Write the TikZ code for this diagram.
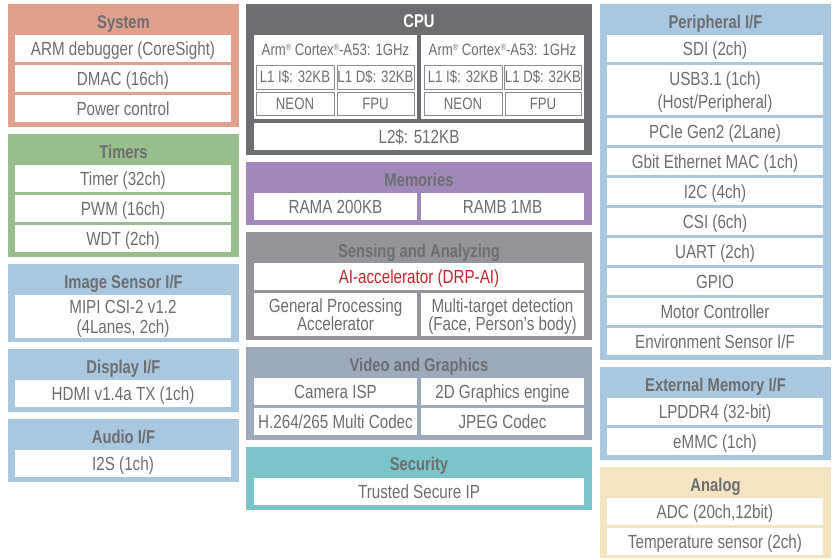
\documentclass[tikz,border=0pt]{standalone}
\usepackage{fontspec}
\setmainfont{Liberation Sans}[FakeStretch=0.8]

\definecolor{sysC}{HTML}{DFA08D}
\definecolor{timC}{HTML}{98BF8B}
\definecolor{ifC}{HTML}{A9C7DE}
\definecolor{cpuC}{HTML}{6D6E71}
\definecolor{memC}{HTML}{A088B8}
\definecolor{senC}{HTML}{949599}
\definecolor{vidC}{HTML}{9DAABB}
\definecolor{secC}{HTML}{7BC5CA}
\definecolor{anaC}{HTML}{F4E4C1}
\definecolor{txt}{HTML}{6D6E71}
\definecolor{aiRed}{HTML}{C1272D}
\definecolor{subline}{HTML}{8C8C8C}

\newcommand{\itemfont}{\fontsize{19}{21}\selectfont}
\newcommand{\ttlfont}{\bfseries\fontsize{18.5}{20}\selectfont}
\newcommand{\subfont}{\fontsize{16.5}{18}\selectfont}
\newcommand{\regmark}{{\fontsize{9}{9}\selectfont\raisebox{5pt}{®}}}

\begin{document}
\begin{tikzpicture}[x=1pt,y=-1pt,
  % a rectangle given by its corners x1,y1,x2,y2
  span/.style n args={4}{anchor=center, at={({(#1+#3)/2},{(#2+#4)/2})},
        minimum width={(#3-#1)*1pt}, minimum height={(#4-#2)*1pt}},
  panel/.style={fill=#1, draw=none, inner sep=0pt},
  item/.style={fill=white, draw=none, inner sep=0pt, text=txt, font=\itemfont,
               align=center, text height=13.6pt, text depth=0pt},
  % two-line items: first cap top to last baseline, with the given line gap
  twoline/.style={text height={(13.6+#1)*1pt}},
  ttl/.style={text=txt, font=\ttlfont, inner sep=0pt, text height=13.2pt, text depth=0pt},
  sub/.style={item, draw=subline, line width=1pt, font=\subfont, text height=11.8pt}]
\useasboundingbox (0,0) rectangle (836,558);

% ---------------- left column ----------------
\node[panel=sysC, span={8}{4}{239}{127}] (sys) {};
\node[ttl] (sysT) at (123.5,22) {System};
\node[item, span={15}{35}{231}{62}] (sys1) {ARM debugger (CoreSight)};
\node[item, span={15}{65}{231}{92}] (sys2) {DMAC (16ch)};
\node[item, span={15}{95}{231}{122}] (sys3) {Power control};

\node[panel=timC, span={8}{134}{239}{257}] (tim) {};
\node[ttl] (timT) at (123.5,152) {Timers};
\node[item, span={15}{165}{231}{192}] (tim1) {Timer (32ch)};
\node[item, span={15}{195}{231}{222}] (tim2) {PWM (16ch)};
\node[item, span={15}{225}{231}{252}] (tim3) {WDT (2ch)};

\node[panel=ifC, span={8}{264}{239}{342}] (isf) {};
\node[ttl] (isfT) at (123.5,282) {Image Sensor I/F};
\node[item, twoline=20, span={15}{295}{231}{338}] (isf1) {MIPI CSI-2 v1.2\\[-1pt](4Lanes, 2ch)};

\node[panel=ifC, span={8}{349}{239}{412}] (dsp) {};
\node[ttl] (dspT) at (123.5,367) {Display I/F};
\node[item, span={15}{380}{231}{407}] (dsp1) {HDMI v1.4a TX (1ch)};

\node[panel=ifC, span={8}{419}{239}{482}] (aud) {};
\node[ttl] (audT) at (123.5,437) {Audio I/F};
\node[item, span={15}{450}{231}{477}] (aud1) {I2S (1ch)};

% ---------------- middle column ----------------
\node[panel=cpuC, span={246}{4}{592}{155}] (cpu) {};
\node[ttl, text=white] (cpuT) at (419,21) {CPU};
\node[item, span={254}{35}{417}{119}] (coreA) {};
\node[item, span={421}{35}{584}{119}] (coreB) {};
\node[item, fill=none, font=\subfont, text height=11.8pt] (coreAT) at (335.5,50)
  {Arm\regmark\ Cortex\regmark-A53: 1GHz};
\node[item, fill=none, font=\subfont, text height=11.8pt] (coreBT) at (502.5,50)
  {Arm\regmark\ Cortex\regmark-A53: 1GHz};
\node[sub, span={256}{65}{334}{89}] (a1) {L1 I\$: 32KB};
\node[sub, span={337}{65}{414}{89}] (a2) {L1 D\$: 32KB};
\node[sub, span={256}{92}{334}{115}] (a3) {NEON};
\node[sub, span={337}{92}{414}{115}] (a4) {FPU};
\node[sub, span={424}{65}{502}{89}] (b1) {L1 I\$: 32KB};
\node[sub, span={505}{65}{581}{89}] (b2) {L1 D\$: 32KB};
\node[sub, span={424}{92}{502}{115}] (b3) {NEON};
\node[sub, span={505}{92}{581}{115}] (b4) {FPU};
\node[item, span={254}{123}{584}{150}] (l2) {L2\$: 512KB};

\node[panel=memC, span={246}{162}{592}{225}] (mem) {};
\node[ttl] (memT) at (419,180) {Memories};
\node[item, span={254}{193}{417}{220}] (mem1) {RAMA 200KB};
\node[item, span={421}{193}{584}{220}] (mem2) {RAMB 1MB};

\node[panel=senC, span={246}{232}{592}{340}] (sen) {};
\node[ttl] (senT) at (419,251) {Sensing and Analyzing};
\node[item, text=aiRed, span={254}{263}{584}{290}] (ai) {AI-accelerator (DRP-AI)};
\node[item, twoline=18, span={254}{293}{417}{336}] (gpa) {General Processing\\[-3pt]Accelerator};
\node[item, twoline=18, span={421}{293}{584}{336}] (mtd) {Multi-target detection\\[-3pt](Face, Person’s body)};

\node[panel=vidC, span={246}{347}{592}{440}] (vid) {};
\node[ttl] (vidT) at (419,365) {Video and Graphics};
\node[item, span={254}{378}{417}{405}] (vid1) {Camera ISP};
\node[item, span={421}{378}{584}{405}] (vid2) {2D Graphics engine};
\node[item, span={254}{408}{417}{435}] (vid3) {H.264/265 Multi Codec};
\node[item, span={421}{408}{584}{435}] (vid4) {JPEG Codec};

\node[panel=secC, span={246}{447}{592}{510}] (sec) {};
\node[ttl] (secT) at (419,464) {Security};
\node[item, span={254}{478}{584}{505}] (sec1) {Trusted Secure IP};

% ---------------- right column ----------------
\node[panel=ifC, span={600}{4}{831}{360}] (per) {};
\node[ttl] (perT) at (715.5,22) {Peripheral I/F};
\node[item, span={607}{35}{823}{62}] (p1) {SDI (2ch)};
\node[item, twoline=23, span={607}{65}{823}{115}] (p2) {USB3.1 (1ch)\\[2pt](Host/Peripheral)};
\node[item, span={607}{118}{823}{145}] (p3) {PCIe Gen2 (2Lane)};
\node[item, span={607}{148}{823}{175}] (p4) {Gbit Ethernet MAC (1ch)};
\node[item, span={607}{178}{823}{205}] (p5) {I2C (4ch)};
\node[item, span={607}{208}{823}{235}] (p6) {CSI (6ch)};
\node[item, span={607}{238}{823}{265}] (p7) {UART (2ch)};
\node[item, span={607}{268}{823}{295}] (p8) {GPIO};
\node[item, span={607}{298}{823}{325}] (p9) {Motor Controller};
\node[item, span={607}{328}{823}{355}] (p10) {Environment Sensor I/F};

\node[panel=ifC, span={600}{367}{831}{460}] (ext) {};
\node[ttl] (extT) at (715.5,385) {External Memory I/F};
\node[item, span={607}{398}{823}{425}] (ext1) {LPDDR4 (32-bit)};
\node[item, span={607}{428}{823}{455}] (ext2) {eMMC (1ch)};

\node[panel=anaC, span={600}{467}{831}{558}] (ana) {};
\node[ttl] (anaT) at (715.5,485) {Analog};
\node[item, span={607}{498}{823}{525}] (ana1) {ADC (20ch,12bit)};
\node[item, span={607}{528}{823}{555}] (ana2) {Temperature sensor (2ch)};
\end{tikzpicture}
\end{document}
